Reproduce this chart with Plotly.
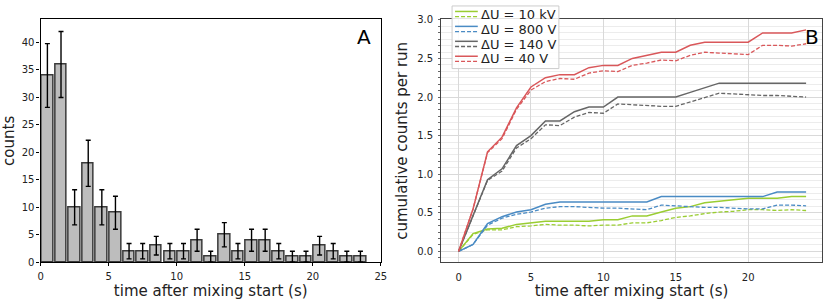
import plotly.graph_objects as go

# ---------------- Panel A data ----------------
bin_centers = [0.5 + i for i in range(24)]
counts = [34, 36, 10, 18, 10, 9, 2, 2, 3, 2, 2, 4, 1, 5, 2, 4, 4, 2, 1, 1, 3, 2, 1, 1]
count_err = [5.8, 6.0, 3.2, 4.2, 3.2, 3.0, 1.4, 1.4, 1.7, 1.4, 1.4, 2.0, 1.0, 2.2,
             1.4, 2.0, 2.0, 1.4, 1.0, 1.0, 1.7, 1.4, 1.0, 1.0]

# ---------------- Panel B data ----------------
t = list(range(25))
u10k_solid = [0, 0.23, 0.29, 0.30, 0.35, 0.37, 0.39, 0.39, 0.39, 0.39, 0.41, 0.41, 0.46,
              0.46, 0.51, 0.56, 0.58, 0.63, 0.65, 0.67, 0.69, 0.69, 0.69, 0.71, 0.71]
u10k_dash = [0, 0.22, 0.28, 0.28, 0.32, 0.33, 0.35, 0.34, 0.34, 0.33, 0.34, 0.34, 0.37,
             0.37, 0.40, 0.44, 0.46, 0.49, 0.51, 0.52, 0.54, 0.54, 0.53, 0.54, 0.53]
u800_solid = [0, 0.09, 0.36, 0.45, 0.51, 0.54, 0.61, 0.64, 0.64, 0.64, 0.64, 0.64, 0.64,
              0.64, 0.71, 0.71, 0.71, 0.71, 0.71, 0.71, 0.71, 0.71, 0.77, 0.77, 0.77]
u800_dash = [0, 0.09, 0.34, 0.43, 0.48, 0.51, 0.56, 0.58, 0.58, 0.57, 0.56, 0.56, 0.55,
             0.54, 0.60, 0.59, 0.58, 0.57, 0.57, 0.56, 0.55, 0.55, 0.60, 0.60, 0.59]
u140_solid = [0, 0.47, 0.93, 1.07, 1.37, 1.50, 1.69, 1.69, 1.81, 1.87, 1.87, 2.00, 2.00,
              2.00, 2.00, 2.00, 2.06, 2.12, 2.18, 2.18, 2.18, 2.18, 2.18, 2.18, 2.18]
u140_dash = [0, 0.46, 0.92, 1.04, 1.34, 1.46, 1.64, 1.63, 1.74, 1.80, 1.79, 1.91, 1.90,
             1.89, 1.88, 1.88, 1.94, 2.00, 2.05, 2.04, 2.03, 2.02, 2.02, 2.01, 2.00]
u40_solid = [0, 0.55, 1.29, 1.48, 1.86, 2.13, 2.25, 2.29, 2.29, 2.38, 2.41, 2.41, 2.50,
             2.54, 2.58, 2.58, 2.67, 2.71, 2.71, 2.71, 2.71, 2.83, 2.83, 2.83, 2.87]
u40_dash = [0, 0.55, 1.28, 1.46, 1.84, 2.09, 2.20, 2.24, 2.23, 2.31, 2.34, 2.33, 2.41,
            2.44, 2.48, 2.47, 2.54, 2.58, 2.57, 2.56, 2.55, 2.67, 2.67, 2.66, 2.69]

series_names = ["ΔU = 10 kV", "ΔU = 800 V", "ΔU = 140 V", "ΔU = 40 V"]
series_solid = [u10k_solid, u800_solid, u140_solid, u40_solid]
series_dash = [u10k_dash, u800_dash, u140_dash, u40_dash]
series_colors = ["#9acd32", "#4a8bc4", "#666666", "#d9575a"]

FONT = "DejaVu Sans"
W, H = 830, 300

fig = go.Figure()

fig.add_trace(go.Bar(
    x=bin_centers, y=counts, width=0.85,
    marker=dict(color="#bdbdbd", line=dict(color="#3a3a3a", width=1.5)),
    error_y=dict(type="data", array=count_err, color="black", thickness=1.4, width=2.5),
    xaxis="x", yaxis="y", showlegend=False,
))

for name, ys, yd, c in zip(series_names, series_solid, series_dash, series_colors):
    fig.add_trace(go.Scatter(x=t, y=ys, mode="lines", line=dict(color=c, width=1.5),
                             xaxis="x2", yaxis="y2", showlegend=False, name=name))
    fig.add_trace(go.Scatter(x=t, y=yd, mode="lines", line=dict(color=c, width=1.3, dash="4px,2px"),
                             xaxis="x2", yaxis="y2", showlegend=False, name=name))

axA_x = [38 / W, 382 / W]
axB_x = [443 / W, 828 / W]
ydom = [1 - 267 / H, 1 - 15 / H]

tickfont = dict(family=FONT, size=10, color="#222")
titlefont = dict(family=FONT, size=15, color="#222")

fig.update_layout(
    width=W, height=H,
    margin=dict(l=0, r=0, t=0, b=0),
    paper_bgcolor="white", plot_bgcolor="white",
    font=dict(family=FONT),
    bargap=0,
    xaxis=dict(domain=axA_x, range=[0, 25], tickvals=[0, 5, 10, 15, 20, 25],
               showline=True, mirror=True, linecolor="black", linewidth=1.2,
               ticks="outside", ticklen=3, tickcolor="black", showgrid=False, zeroline=False,
               tickfont=tickfont, ticklabelstandoff=2,
               title=dict(text="time after mixing start (s)", font=titlefont, standoff=5)),
    yaxis=dict(domain=ydom, range=[0, 44.2], tickvals=list(range(0, 45, 5)),
               showline=True, mirror=True, linecolor="black", linewidth=1.2,
               ticks="outside", ticklen=3, tickcolor="black", showgrid=False, zeroline=False,
               tickfont=tickfont,
               title=dict(text="counts", font=titlefont, standoff=6)),
    xaxis2=dict(domain=axB_x, anchor="y2", range=[-1.2, 25.1], tickvals=[0, 5, 10, 15, 20],
                showline=True, mirror=True, linecolor="#444", linewidth=1.2,
                ticks="", showgrid=True, gridcolor="#d9d9d9", gridwidth=1, zeroline=False,
                tickfont=tickfont, ticklabelstandoff=6,
                title=dict(text="time after mixing start (s)", font=titlefont, standoff=5)),
    yaxis2=dict(domain=ydom, anchor="x2", range=[-0.14, 3.005],
                tickvals=[0, 0.5, 1.0, 1.5, 2.0, 2.5, 3.0],
                ticktext=["0.0", "0.5", "1.0", "1.5", "2.0", "2.5", "3.0"],
                showline=True, mirror=True, linecolor="#444", linewidth=1.2,
                ticks="", showgrid=True, gridcolor="#d9d9d9", gridwidth=1, zeroline=False,
                minor=dict(dtick=0.5 / 6, tick0=0, showgrid=True, gridcolor="#ececec",
                           ticks="outside", ticklen=2, tickcolor="#666"),
                tickfont=tickfont, ticklabelstandoff=5,
                title=dict(text="cumulative counts per run", font=titlefont, standoff=5)),
)

# Panel letters
fig.add_annotation(text="A", x=365 / W, y=1 - 33 / H, xref="paper", yref="paper",
                   showarrow=False, font=dict(family=FONT, size=20, color="black"),
                   xanchor="center", yanchor="middle")
fig.add_annotation(text="B", x=818 / W, y=1 - 33 / H, xref="paper", yref="paper",
                   showarrow=False, font=dict(family=FONT, size=20, color="black"),
                   xanchor="center", yanchor="middle")

# Manual legend (solid over dashed handle, as in the reference)
lx0, lx1, ly0, ly1 = 454, 562, 1, 66
fig.add_shape(type="rect", xref="paper", yref="paper",
              x0=lx0 / W, x1=lx1 / W, y0=1 - ly1 / H, y1=1 - ly0 / H,
              line=dict(color="#cccccc", width=1), fillcolor="rgba(255,255,255,0.85)",
              layer="above")
row_y = [9.5, 25, 40.5, 56]
for name, c, ry in zip(series_names, series_colors, row_y):
    fig.add_shape(type="line", xref="paper", yref="paper",
                  x0=457 / W, x1=480 / W, y0=1 - (ry - 2.8) / H, y1=1 - (ry - 2.8) / H,
                  line=dict(color=c, width=1.5), layer="above")
    fig.add_shape(type="line", xref="paper", yref="paper",
                  x0=457 / W, x1=480 / W, y0=1 - (ry + 2.6) / H, y1=1 - (ry + 2.6) / H,
                  line=dict(color=c, width=1.3, dash="4px,2px"), layer="above")
    fig.add_annotation(text=name, x=482 / W, y=1 - ry / H, xref="paper", yref="paper",
                       showarrow=False, xanchor="left", yanchor="middle", borderpad=0,
                       font=dict(family=FONT, size=13, color="#222"))

fig.write_html("out.html", config={"displayModeBar": False},
               post_script="document.body.style.margin='0';document.body.style.padding='0';"
                           "document.documentElement.style.overflow='hidden';")
